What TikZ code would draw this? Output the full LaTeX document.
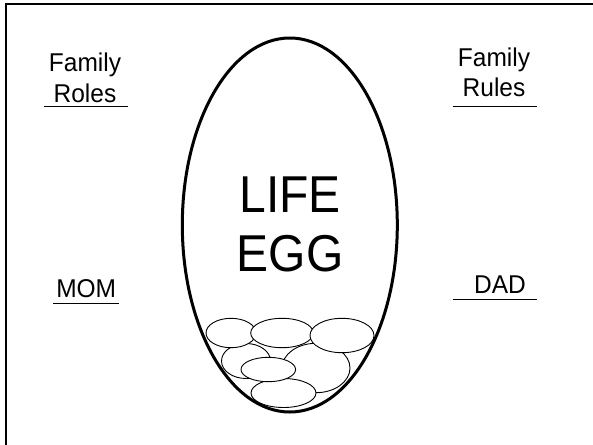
\documentclass[tikz,border=0pt]{standalone}
\usepackage{fontspec}
\setmainfont{Liberation Sans}
\usetikzlibrary{positioning}

\begin{document}
\begin{tikzpicture}[x=1pt, y=-1pt,
 label/.style={align=center, inner sep=0pt, font=\fontsize{24.5}{29}\selectfont,
 transform shape, yscale=1.05},
 big/.style={align=center, inner sep=0pt, font=\fontsize{48}{54}\selectfont,
 transform shape, yscale=1.08},
 rule/.style={line width=1pt},
 pebble/.style={draw, fill=white, line width=.9pt}]
\path[use as bounding box, clip] (0,0) rectangle (593,444);
\draw[line width=2pt] (5.7,4.3) rectangle (610,460);
% side labels (base = last line)
\node[label, anchor=base] (roles) at (85,102) {Family\\Roles};
\node[label, anchor=base] (rules) at (494,96.5) {Family\\Rules};
\node[label, anchor=base] (mom) at (86.2,297.3) {MOM};
\node[label, anchor=base] (dad) at (500,293.3) {DAD};
\draw[rule] (44,106.7) -- (128.3,106.7);
\draw[rule] (452.7,106.7) -- (537.3,106.7);
\draw[rule] (53.3,303.3) -- (119,303.3);
\draw[rule] (452.7,299) -- (537.3,299);
% the egg and what sits at its bottom
\node[big, anchor=base] (life) at (290,271) {LIFE\\EGG};
\draw[pebble] (246,361) ellipse [x radius=24.5, y radius=17.5];
\draw[pebble] (316,368) ellipse [x radius=34, y radius=24.7];
\draw[pebble] (283.5,393) ellipse [x radius=32.5, y radius=14.5];
\draw[pebble] (268.3,369.5) ellipse [x radius=27.3, y radius=12.2];
\draw[pebble] (231,333) ellipse [x radius=25, y radius=14.7];
\draw[pebble] (282,333) ellipse [x radius=31.3, y radius=14.7];
\draw[pebble] (342,335.5) ellipse [x radius=32, y radius=17.2];
\draw[line width=3pt] (289.8,225) ellipse [x radius=107.5, y radius=187];
\end{tikzpicture}
\end{document}
